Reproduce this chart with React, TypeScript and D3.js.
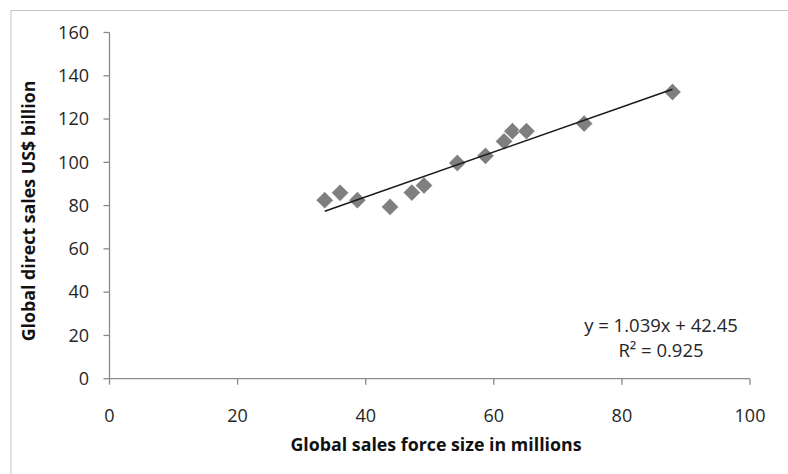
import React from 'react';
import * as d3 from 'd3';

// sales force size (millions) vs direct sales (US$ billion)
const forceSize = [33.6, 36.0, 38.7, 43.8, 47.2, 49.1, 54.3, 58.7, 61.6, 62.9, 65.1, 74.1, 87.9];
const directSales = [82.5, 85.9, 82.5, 79.4, 86.0, 89.3, 99.7, 103.0, 109.7, 114.4, 114.4, 117.9, 132.5];

const xTicks = [0, 20, 40, 60, 80, 100];
const yTicks = [0, 20, 40, 60, 80, 100, 120, 140, 160];

// Excel trendline
const slope = 1.039;
const intercept = 42.45;
const equationLabel = 'y = 1.039x + 42.45';
const r2Label = 'R² = 0.925';

const W = 788;
const H = 474;
const FONT = '"Open Sans", sans-serif';

const App = () => {
  const x = d3.scaleLinear().domain([0, 100]).range([109.5, 750]);
  const y = d3.scaleLinear().domain([0, 160]).range([378.7, 32.5]);

  const axisColor = '#8a8a8a';

  // diamond marker: square rotated 45deg
  const diamond = d3.symbol().type(d3.symbolSquare).size(150)();

  const xMin = d3.min(forceSize) as number;
  const xMax = d3.max(forceSize) as number;
  const trend = d3.line<number>()
    .x(d => x(d))
    .y(d => y(slope * d + intercept));

  return (
    <svg width={W} height={H} style={{ position: 'absolute', left: 0, top: 0, background: '#fff' }} fontFamily={FONT}>
      {/* chart frame, cropped at right/bottom */}
      <rect x={11} y={10.5} width={W} height={H} fill="#fff" stroke="#c4c4c4" strokeWidth={1} />

      {/* y axis */}
      <line x1={x(0)} x2={x(0)} y1={y(0)} y2={y(160)} stroke={axisColor} strokeWidth={1.3} />
      {yTicks.map(t => (
        <g key={'y' + t}>
          <line x1={x(0) - 6} x2={x(0)} y1={y(t)} y2={y(t)} stroke={axisColor} strokeWidth={1.3} />
          <text x={89} y={y(t)} dy="0.35em" textAnchor="end" fontSize={18} fill="#262626">{t}</text>
        </g>
      ))}

      {/* x axis */}
      <line x1={x(0)} x2={x(100)} y1={y(0)} y2={y(0)} stroke={axisColor} strokeWidth={1.3} />
      {xTicks.map(t => (
        <g key={'x' + t}>
          <line x1={x(t)} x2={x(t)} y1={y(0)} y2={y(0) + 6} stroke={axisColor} strokeWidth={1.3} />
          <text x={x(t)} y={421.5} textAnchor="middle" fontSize={18} fill="#262626">{t}</text>
        </g>
      ))}

      {/* axis titles */}
      <text x={436} y={451} textAnchor="middle" fontSize={17.8} fontWeight="bold" fill="#111">
        Global sales force size in millions
      </text>
      <text transform={`translate(35,211) rotate(-90)`} textAnchor="middle" fontSize={17.8} fontWeight="bold" fill="#111">
        Global direct sales US$ billion
      </text>

      {/* points */}
      {forceSize.map((fx, i) => (
        <path key={i} d={diamond as string}
          transform={`translate(${x(fx)},${y(directSales[i])}) rotate(45)`}
          fill="#7f7f7f" stroke="#fff" strokeWidth={0.6} />
      ))}

      {/* trendline */}
      <path d={trend([xMin, xMax]) as string} fill="none" stroke="#1a1a1a" strokeWidth={1.6} />

      {/* equation */}
      <text x={661} y={332} textAnchor="middle" fontSize={18.5} fill="#262626">{equationLabel}</text>
      <text x={661} y={357} textAnchor="middle" fontSize={18.5} fill="#262626">{r2Label}</text>
    </svg>
  );
};

export default App;
